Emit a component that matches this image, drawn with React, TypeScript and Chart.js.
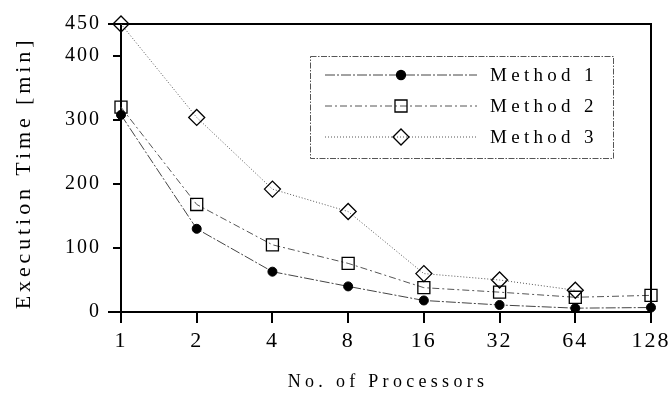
import React, { useEffect, useRef } from 'react';
import { Chart, registerables } from 'chart.js';

Chart.register(...registerables);

const processors = ['1', '2', '4', '8', '16', '32', '64', '128'];
const method1 = [308, 130, 63, 40, 18, 11, 6, 7];
const method2 = [320, 168, 105, 76, 38, 31, 23, 26];
const method3 = [450, 304, 192, 157, 60, 50, 34, null];
const yTickValues = [0, 100, 200, 300, 400, 450];
const seriesLabels = ['Method 1', 'Method 2', 'Method 3'];
const xTitle = 'No. of Processors';
const yTitle = 'Execution Time [min]';

const FONT = '"Liberation Serif", "Times New Roman", serif';
const TICK_SPACING = '2px';

const spacingPlugin = {
  id: 'spacing',
  beforeLayout(chart: any) {
    chart.ctx.letterSpacing = TICK_SPACING;
  },
  beforeDraw(chart: any) {
    chart.ctx.letterSpacing = TICK_SPACING;
  },
};

const framePlugin = {
  id: 'frame',
  beforeDatasetsDraw(chart: any) {
    const { ctx, chartArea: a } = chart;
    ctx.save();
    ctx.strokeStyle = '#000';
    ctx.lineWidth = 2;
    ctx.setLineDash([]);
    ctx.beginPath();
    ctx.moveTo(a.left - 13, a.top);
    ctx.lineTo(a.right, a.top);
    ctx.lineTo(a.right, a.bottom);
    ctx.moveTo(a.left - 13, a.bottom);
    ctx.lineTo(a.left, a.bottom);
    ctx.stroke();
    ctx.restore();
  },
};

const titlesPlugin = {
  id: 'axisTitles',
  afterDraw(chart: any) {
    const { ctx, chartArea: a } = chart;
    ctx.save();
    ctx.fillStyle = '#000';
    ctx.textAlign = 'center';
    ctx.textBaseline = 'alphabetic';
    ctx.letterSpacing = '4.3px';
    ctx.font = `18px ${FONT}`;
    ctx.fillText(xTitle, (a.left + a.right) / 2 + 2, a.bottom + 75);
    ctx.letterSpacing = '3.9px';
    ctx.font = `22px ${FONT}`;
    ctx.translate(30, (a.top + a.bottom) / 2 + 7);
    ctx.rotate(-Math.PI / 2);
    ctx.fillText(yTitle, 2, 0);
    ctx.restore();
  },
};

function drawMarker(ctx: CanvasRenderingContext2D, style: string, x: number, y: number, r: number, fill: string) {
  ctx.beginPath();
  if (style === 'circle') {
    ctx.arc(x, y, r, 0, Math.PI * 2);
  } else if (style === 'rect') {
    const s = r * Math.SQRT1_2;
    ctx.rect(x - s, y - s, 2 * s, 2 * s);
  } else {
    ctx.moveTo(x - r, y);
    ctx.lineTo(x, y - r);
    ctx.lineTo(x + r, y);
    ctx.lineTo(x, y + r);
    ctx.closePath();
  }
  if (fill !== 'transparent') {
    ctx.fillStyle = fill;
    ctx.fill();
  }
  ctx.strokeStyle = '#000';
  ctx.lineWidth = 1.3;
  ctx.stroke();
}

const legendPlugin = {
  id: 'boxLegend',
  afterDraw(chart: any) {
    const { ctx, chartArea: a } = chart;
    const w = 303;
    const h = 102;
    const right = a.right - 38;
    const top = a.top + 32;
    const left = right - w;
    ctx.save();
    ctx.strokeStyle = '#555';
    ctx.lineWidth = 1;
    ctx.setLineDash([6, 1.5, 1.5, 1.5]);
    ctx.strokeRect(left + 0.5, top + 0.5, w, h);
    chart.data.datasets.forEach((ds: any, i: number) => {
      const y = top + 19 + i * 31;
      const x0 = left + 15;
      const x1 = left + 167;
      const xm = left + 91;
      ctx.setLineDash(ds.borderDash || []);
      ctx.strokeStyle = ds.borderColor;
      ctx.lineWidth = ds.borderWidth;
      ctx.beginPath();
      ctx.moveTo(x0, y);
      ctx.lineTo(x1, y);
      ctx.stroke();
      ctx.setLineDash([]);
      drawMarker(ctx, ds.pointStyle, xm, y, ds.pointRadius, ds.pointBackgroundColor);
      ctx.fillStyle = '#000';
      ctx.letterSpacing = '4.3px';
      ctx.font = `19px ${FONT}`;
      ctx.textBaseline = 'alphabetic';
      ctx.textAlign = 'left';
      ctx.fillText(ds.label, left + 180, y + 6);
    });
    ctx.restore();
  },
};

export default function App() {
  const ref = useRef<HTMLCanvasElement | null>(null);

  useEffect(() => {
    document.body.style.margin = '0';
    const canvas = ref.current!;
    const chart = new Chart(canvas, {
      type: 'line',
      data: {
        labels: processors,
        datasets: [
          {
            label: seriesLabels[0],
            data: method1,
            borderColor: '#444',
            borderWidth: 1,
            borderDash: [10, 2, 2, 2],
            pointStyle: 'circle',
            pointRadius: 4.5,
            pointBackgroundColor: '#000',
            pointBorderColor: '#000',
            pointBorderWidth: 1,
            tension: 0,
            clip: false,
          },
          {
            label: seriesLabels[1],
            data: method2,
            borderColor: '#555',
            borderWidth: 1,
            borderDash: [7, 3, 2, 3],
            pointStyle: 'rect',
            pointRadius: 8.5,
            pointBackgroundColor: 'transparent',
            pointBorderColor: '#000',
            pointBorderWidth: 1.3,
            tension: 0,
            clip: false,
          },
          {
            label: seriesLabels[2],
            data: method3,
            borderColor: '#555',
            borderWidth: 1,
            borderDash: [1, 2],
            pointStyle: 'rectRot',
            pointRadius: 8,
            pointBackgroundColor: 'transparent',
            pointBorderColor: '#000',
            pointBorderWidth: 1.3,
            tension: 0,
            clip: false,
          },
        ] as any,
      },
      options: {
        responsive: false,
        animation: false,
        layout: { padding: { top: 24, right: 21, left: 0, bottom: 0 } },
        plugins: { legend: { display: false }, tooltip: { enabled: false } },
        scales: {
          x: {
            type: 'category',
            offset: false,
            grid: { display: true, drawOnChartArea: false, drawTicks: true, tickLength: 11, color: '#000', lineWidth: 2 },
            border: { display: true, color: '#000', width: 2 },
            ticks: { color: '#000', font: { family: FONT, size: 22 }, padding: 5, maxRotation: 0, autoSkip: false },
            title: { display: false, text: xTitle },
            afterFit(s: any) {
              s.height = 85;
              s.paddingLeft = 0;
              s.paddingRight = 0;
            },
          },
          y: {
            type: 'linear',
            min: 0,
            max: 450,
            afterBuildTicks(s: any) {
              s.ticks = yTickValues.map((v) => ({ value: v }));
            },
            grid: { display: true, drawOnChartArea: false, drawTicks: true, tickLength: 8, color: '#000', lineWidth: 2 },
            border: { display: true, color: '#000', width: 2 },
            ticks: { color: '#000', font: { family: FONT, size: 20 }, padding: 12 },
            title: { display: false, text: yTitle },
            afterFit(s: any) {
              s.width = 121;
              s.paddingTop = 0;
              s.paddingBottom = 0;
            },
          },
        },
      } as any,
      plugins: [spacingPlugin, framePlugin, legendPlugin, titlesPlugin],
    });
    return () => chart.destroy();
  }, []);

  return <canvas ref={ref} width={672} height={397} style={{ display: 'block' }} />;
}
